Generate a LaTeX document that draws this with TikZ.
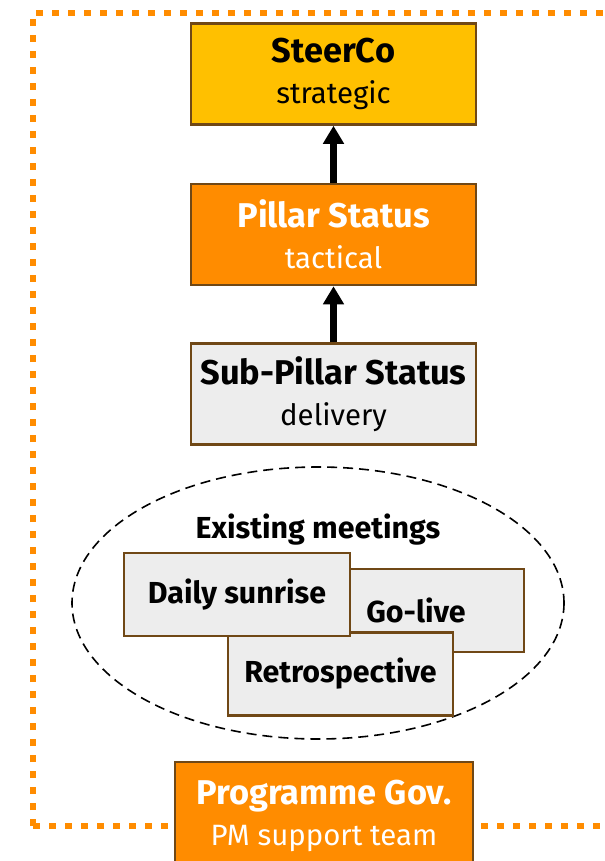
\documentclass[tikz,border=0pt]{standalone}
\usepackage{fontspec}
\setmainfont{Fira Sans}
\usetikzlibrary{arrows.meta}
\definecolor{gold}{RGB}{255,192,0}
\definecolor{pumpkin}{RGB}{255,140,0}
\definecolor{paper}{RGB}{237,237,237}
\definecolor{rim}{RGB}{112,72,22}
\tikzset{>={Triangle[width=20bp,length=18bp]}}
\newcommand*{\hd}[1]{{\fontsize{34.5}{41}\selectfont\bfseries #1}}

\begin{document}
\begin{tikzpicture}[x=1bp,y=-1bp,
  tier/.style={draw=rim,line width=2.5bp,minimum width=285bp,minimum height=101bp,
    align=center,inner sep=0pt,font=\fontsize{29.5}{41}\selectfont},
  meet/.style={draw=rim,fill=paper,line width=2.2bp,minimum height=83bp,
    inner sep=0pt,font=\fontsize{30.5}{34}\selectfont\bfseries},
  up/.style={->,line width=7bp}]
\useasboundingbox (0,0) rectangle (605,861);
% dotted frame
\draw[pumpkin,line width=6bp,dash pattern=on 7bp off 9bp] (33,826) -- (33,13) -- (650,13);
\draw[pumpkin,line width=6bp,dash pattern=on 7bp off 9bp] (33,826) -- (650,826);
% the three levels
\node[tier,fill=gold] (steer) at (333.5,74) {\hd{SteerCo}\\strategic};
\node[tier,fill=pumpkin,text=white] (pillar) at (333.5,234.5) {\hd{Pillar Status}\\tactical};
\node[tier,fill=paper] (sub) at (333.5,394) {\hd{Sub-Pillar Status}\\delivery};
\draw[up] (pillar.north) -- (steer.south);
\draw[up] (sub.north) -- (pillar.south);
% existing meetings
\draw[line width=1.6bp,dash pattern=on 10bp off 6bp] (318,603) ellipse [x radius=246, y radius=136];
\node[font=\fontsize{30.5}{34}\selectfont\bfseries] (exist) at (318,530) {Existing meetings};
\node[meet,minimum width=179bp] (golive) at (434.5,610.5) {Go-live\hspace*{37bp}};
\node[meet,minimum width=225bp] (retro) at (340.5,674) {Retrospective};
\node[meet,minimum width=226bp] (daily) at (237,594.5) {Daily sunrise};
% programme governance
\node[tier,fill=pumpkin,text=white,minimum width=298bp,minimum height=108bp] (prog) at (324,816)
  {\hd{Programme Gov.}\\PM support team};
\end{tikzpicture}
\end{document}
